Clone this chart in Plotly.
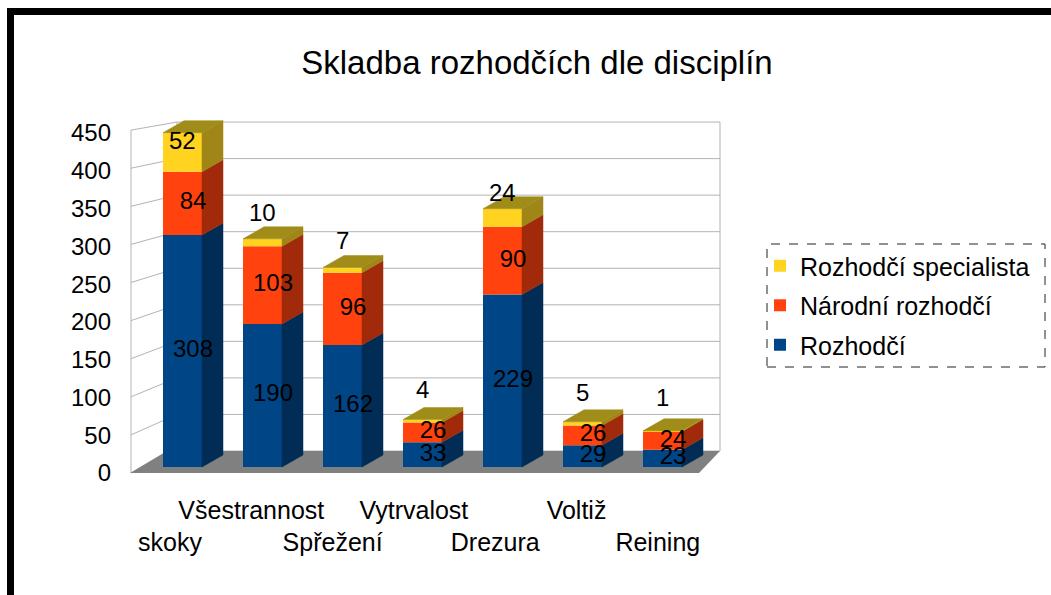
import plotly.graph_objects as go
import numpy as np

# ---------------- data ----------------
categories = ["skoky", "Všestrannost", "Spřežení", "Vytrvalost", "Drezura", "Voltiž", "Reining"]
rozhodci = [308, 190, 162, 33, 229, 29, 23]
narodni = [84, 103, 96, 26, 90, 26, 24]
specialista = [52, 10, 7, 4, 24, 5, 1]
series_names = ["Rozhodčí", "Národní rozhodčí", "Rozhodčí specialista"]
y_ticks = [0, 50, 100, 150, 200, 250, 300, 350, 400, 450]
title_text = "Skladba rozhodčích dle disciplín"

# ---------------- styling / layout constants ----------------
W, H = 1051, 595
PL, PR, PT, PB = 130, 720, 120, 477          # plot area in pixels
FONT = "Liberation Sans, Arial, sans-serif"
front_col = ["#004586", "#ff420e", "#ffd320"]
side_col = ["#002c56", "#a02a0a", "#a08616"]
top_col = "#a08c18"
grid_col = "#b3b3b3"
FRONT_L, FRONT_R, BACK_R = -0.375, 0.1125, 0.375   # bar geometry (x units)
DX = BACK_R - FRONT_R
DEPTH = 12 / 0.753                                  # 3D depth in value units
label_shift = [-8, 26, 27, 30, 16, 29, 33]          # yellow label offsets (px)
legend_rank = [3, 2, 1]


def px_x(x):
    return (x - PL) / (PR - PL)


def px_y(y):
    return (PB - y) / (PB - PT)


def front_px(t):
    return 473 - 0.762 * t


def back_px(t):
    return 451 - 0.731 * t


pos = np.arange(len(categories))
series = [np.array(rozhodci), np.array(narodni), np.array(specialista)]
bases = [np.zeros(len(categories))]
for s in series[:-1]:
    bases.append(bases[-1] + s)

fig = go.Figure()

# front faces
for k, (name, vals) in enumerate(zip(series_names, series)):
    fig.add_trace(go.Bar(
        x=pos, y=vals, base=bases[k], width=FRONT_R - FRONT_L, offset=FRONT_L,
        name=name, legendgroup=name, legendrank=legend_rank[k],
        marker=dict(color=front_col[k], line=dict(width=0)),
        hoverinfo="skip",
    ))

# side faces
for k, vals in enumerate(series):
    xs, ys = [], []
    for i in range(len(categories)):
        b = bases[k][i]
        t = b + vals[i]
        xs += [i + FRONT_R, i + BACK_R, i + BACK_R, i + FRONT_R, i + FRONT_R, None]
        ys += [b, b + DEPTH, t + DEPTH, t, b, None]
    fig.add_trace(go.Scatter(
        x=xs, y=ys, mode="lines", fill="toself", fillcolor=side_col[k],
        line=dict(width=0.5, color=side_col[k]), showlegend=False, hoverinfo="skip"))

# top faces (of the top-most segment)
xs, ys = [], []
totals = bases[-1] + series[-1]
for i in range(len(categories)):
    t = totals[i]
    xs += [i + FRONT_L, i + FRONT_R, i + BACK_R, i + FRONT_L + DX, i + FRONT_L, None]
    ys += [t, t, t + DEPTH, t + DEPTH, t, None]
fig.add_trace(go.Scatter(
    x=xs, y=ys, mode="lines", fill="toself", fillcolor=top_col,
    line=dict(width=0.5, color=top_col), showlegend=False, hoverinfo="skip"))

# value labels for the two lower series
for k in range(2):
    fig.add_trace(go.Scatter(
        x=pos, y=bases[k] + series[k] / 2, mode="text",
        text=[str(v) for v in series[k]], textposition="middle center",
        textfont=dict(family=FONT, size=24, color="black"),
        showlegend=False, hoverinfo="skip"))

# dummy traces so the overlay axes are drawn
fig.add_trace(go.Scatter(x=pos, y=[0] * len(pos), xaxis="x2", yaxis="y", mode="markers",
                         marker=dict(opacity=0), showlegend=False, hoverinfo="skip"))
fig.add_trace(go.Scatter(x=pos, y=[0] * len(pos), xaxis="x3", yaxis="y", mode="markers",
                         marker=dict(opacity=0), showlegend=False, hoverinfo="skip"))
fig.add_trace(go.Scatter(x=pos, y=[0] * len(pos), xaxis="x", yaxis="y2", mode="markers",
                         marker=dict(opacity=0), showlegend=False, hoverinfo="skip"))

# yellow labels
annotations = []
for i in range(len(categories)):
    annotations.append(dict(
        x=i + (FRONT_L + FRONT_R) / 2, y=totals[i], xref="x", yref="y",
        text=str(specialista[i]), showarrow=False, yshift=label_shift[i],
        font=dict(family=FONT, size=24, color="black")))

# decorative shapes: walls, grid, floor, legend box, frame
shapes = []
for t in y_ticks:
    shapes.append(dict(type="line", xref="paper", yref="paper",
                       x0=px_x(177), x1=px_x(720), y0=px_y(back_px(t)), y1=px_y(back_px(t)),
                       line=dict(color=grid_col, width=1), layer="below"))
    shapes.append(dict(type="line", xref="paper", yref="paper",
                       x0=px_x(131), x1=px_x(177), y0=px_y(front_px(t)), y1=px_y(back_px(t)),
                       line=dict(color=grid_col, width=1), layer="below"))
for xv in (177, 720):
    shapes.append(dict(type="line", xref="paper", yref="paper",
                       x0=px_x(xv), x1=px_x(xv), y0=px_y(back_px(0)), y1=px_y(back_px(450)),
                       line=dict(color=grid_col, width=1), layer="below"))
shapes.append(dict(type="line", xref="paper", yref="paper",
                   x0=px_x(131), x1=px_x(131), y0=px_y(front_px(0)), y1=px_y(front_px(450)),
                   line=dict(color=grid_col, width=1), layer="below"))
floor = [(130, 473), (167, 451), (720, 451), (699, 473)]
path = "M " + " L ".join(f"{px_x(a):.5f},{px_y(b):.5f}" for a, b in floor) + " Z"
shapes.append(dict(type="path", xref="paper", yref="paper", path=path,
                   fillcolor="#808080", line=dict(width=0), layer="below"))
shapes.append(dict(type="rect", xref="paper", yref="paper",
                   x0=px_x(767), x1=px_x(1045), y0=px_y(367), y1=px_y(244),
                   line=dict(color="#222222", width=1, dash="dash")))
shapes.append(dict(type="rect", xref="paper", yref="paper",
                   x0=px_x(10.5), x1=px_x(1080), y0=px_y(630), y1=px_y(11.5),
                   line=dict(color="black", width=7)))

x_rng = [(PL - 193) / 80, (PR - 193) / 80]
lab_rng = [(PL - 170) / 81.3, (PR - 170) / 81.3]
odd = [i for i in range(len(categories)) if i % 2 == 1]
even = [i for i in range(len(categories)) if i % 2 == 0]

hidden = dict(showgrid=False, zeroline=False, showline=False, showticklabels=False, ticks="")

fig.update_layout(
    width=W, height=H,
    margin=dict(l=PL, r=W - PR, t=PT, b=H - PB, pad=0),
    paper_bgcolor="white", plot_bgcolor="rgba(0,0,0,0)",
    barmode="overlay",
    title=dict(text=title_text, x=537 / W, xref="container", xanchor="center",
               y=1 - 62 / H, yref="container", yanchor="middle",
               font=dict(family=FONT, size=33, color="black")),
    xaxis=dict(range=x_rng, **hidden),
    yaxis=dict(range=[(467 - PB) / 0.753, (467 - PT) / 0.753], **hidden),
    yaxis2=dict(overlaying="y", anchor="x", side="left",
                range=[(473 - PB) / 0.7556, (473 - PT) / 0.7556],
                tickmode="array", tickvals=y_ticks, ticktext=[str(t) for t in y_ticks],
                showgrid=False, zeroline=False, showline=False, ticks="",
                ticklabelstandoff=18,
                tickfont=dict(family=FONT, size=24, color="black")),
    xaxis2=dict(overlaying="x", anchor="y", side="bottom", range=lab_rng,
                tickmode="array", tickvals=odd, ticktext=[categories[i] for i in odd],
                showgrid=False, zeroline=False, showline=False, ticks="",
                ticklabelstandoff=16,
                tickfont=dict(family=FONT, size=25, color="black")),
    xaxis3=dict(overlaying="x", anchor="y", side="bottom", range=lab_rng,
                tickmode="array", tickvals=even, ticktext=[categories[i] for i in even],
                showgrid=False, zeroline=False, showline=False, ticks="",
                ticklabelstandoff=48,
                tickfont=dict(family=FONT, size=25, color="black")),
    legend=dict(x=px_x(760), y=px_y(243), xanchor="left", yanchor="top",
                traceorder="grouped", tracegroupgap=4,
                bgcolor="rgba(0,0,0,0)", borderwidth=0,
                font=dict(family=FONT, size=25, color="black")),
    annotations=annotations,
    shapes=shapes,
    showlegend=True,
)

fig.write_html("out.html", post_script="document.body.style.margin='0';",
               config={"displayModeBar": False})
